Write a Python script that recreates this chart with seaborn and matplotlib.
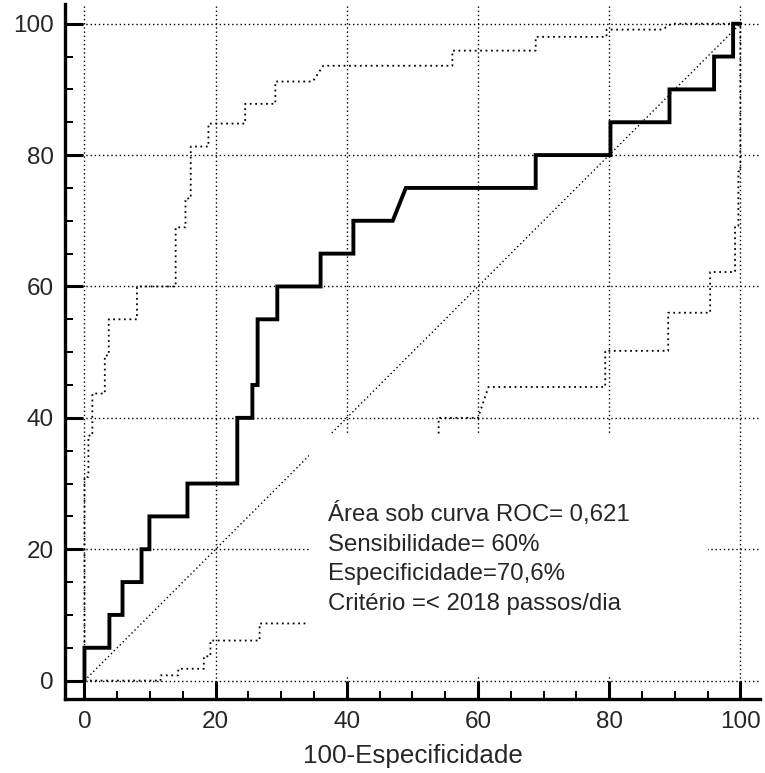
import numpy as np
import matplotlib
matplotlib.use("Agg")
import matplotlib.pyplot as plt
import seaborn as sns
from matplotlib.patches import Rectangle
from matplotlib.ticker import MultipleLocator

# ── Data ─────────────────────────────────────────────────────────────────────
roc_x = [0, 0, 3.8, 3.8, 5.8, 5.8, 8.7, 8.7, 9.9, 9.9, 15.7, 15.7, 23.3, 23.3,
         25.6, 25.6, 26.4, 26.4, 29.4, 29.4, 36, 36, 41, 41, 47, 49, 68.8, 68.8,
         80.2, 80.2, 89.2, 89.2, 96, 96, 98.9, 98.9, 100]
roc_y = [0, 5, 5, 10, 10, 15, 15, 20, 20, 25, 25, 30, 30, 40,
         40, 45, 45, 55, 55, 60, 60, 65, 65, 70, 70, 75, 75, 80,
         80, 85, 85, 90, 90, 95, 95, 100, 100]

upper_x = [0, 0, 0.6, 0.6, 1.2, 1.2, 3.1, 3.1, 3.7, 3.7, 8, 8, 13.9, 13.9,
           15.4, 15.4, 16.2, 16.2, 18.9, 18.9, 24.5, 24.5, 29.1, 29.1, 34.8,
           36.4, 56.1, 56.1, 68.8, 68.8, 79.6, 79.6, 88.1, 89.5, 100]
upper_y = [0, 31, 31, 37.3, 37.3, 43.7, 43.7, 49.5, 49.5, 55, 55, 60, 60, 69,
           69, 73.4, 73.4, 81.3, 81.3, 84.8, 84.8, 87.8, 87.8, 91.2, 91.2,
           93.6, 93.6, 95.9, 95.9, 98, 98, 99.1, 99.1, 100, 100]

lower_x = [0, 11.6, 11.6, 14.3, 14.3, 18.2, 18.2, 19.2, 19.2, 26.7, 26.7, 54,
           54, 60, 61.6, 79.4, 79.4, 89, 89, 95.4, 95.4, 99.2, 99.2, 99.7,
           99.7, 100, 100]
lower_y = [0, 0, 0.8, 0.8, 1.8, 1.8, 3.7, 3.7, 6.1, 6.1, 8.7, 8.7,
           40, 40, 44.7, 44.7, 50.2, 50.2, 56, 56, 62.2, 62.2, 69.2, 69.2,
           77.5, 77.5, 100]

ref_x = [0, 100]
ref_y = [0, 100]

ticks = [0, 20, 40, 60, 80, 100]

info_lines = ["Área sob curva ROC= 0,621",
              "Sensibilidade= 60%",
              "Especificidade=70,6%",
              "Critério =< 2018 passos/dia"]
info_y = [24.3, 19.8, 15.3, 10.75]

# ── Style ────────────────────────────────────────────────────────────────────
sns.set_style("white")
plt.rcParams['font.family'] = ['Liberation Sans', 'DejaVu Sans']

fig = plt.figure(figsize=(7.65, 7.73), dpi=100)
ax = fig.add_axes([65 / 765, 74 / 773, 695 / 765, 695 / 773])

dot = (0, (1, 2))

# grid
ax.grid(True, which="major", color="black", linestyle=dot, linewidth=1.0)
ax.set_axisbelow(True)

# reference diagonal + confidence bounds
sns.lineplot(x=ref_x, y=ref_y, sort=False, estimator=None, ax=ax,
             color="black", linestyle=dot, linewidth=1.0, zorder=2)
sns.lineplot(x=upper_x, y=upper_y, sort=False, estimator=None, ax=ax,
             color="black", linestyle=dot, linewidth=1.3, zorder=2)
sns.lineplot(x=lower_x, y=lower_y, sort=False, estimator=None, ax=ax,
             color="black", linestyle=dot, linewidth=1.3, zorder=2)

# ROC curve
sns.lineplot(x=roc_x, y=roc_y, sort=False, estimator=None, ax=ax,
             color="black", linewidth=2.8, zorder=5,
             solid_joinstyle="miter")

# white panel behind the text
ax.add_patch(Rectangle((34.2, 0.5), 60.8, 37.1, facecolor="white",
                       edgecolor="none", zorder=3))
for txt, yy in zip(info_lines, info_y):
    ax.text(37.2, yy, txt, fontsize=17.3, va="baseline", ha="left", zorder=4)

# axes
ax.set_xlim(-2.97, 103.0)
ax.set_ylim(-2.8, 103.0)
ax.set_xticks(ticks)
ax.set_yticks(ticks)
ax.xaxis.set_minor_locator(MultipleLocator(5))
ax.yaxis.set_minor_locator(MultipleLocator(5))
ax.tick_params(which="major", direction="in", length=13, width=2.2,
               color="black", labelsize=17.5, bottom=True, left=True)
ax.tick_params(axis="x", which="major", pad=9)
ax.tick_params(axis="y", which="major", pad=8)
ax.tick_params(which="minor", direction="in", length=6, width=1.4,
               color="black", bottom=True, left=True)

for side in ["top", "right"]:
    ax.spines[side].set_visible(False)
for side in ["left", "bottom"]:
    ax.spines[side].set_linewidth(2.4)
    ax.spines[side].set_color("black")

ax.set_xlabel("100-Especificidade", fontsize=18.75, labelpad=7.5)
ax.set_ylabel("")

fig.savefig("out.png", dpi=100)
plt.close(fig)
